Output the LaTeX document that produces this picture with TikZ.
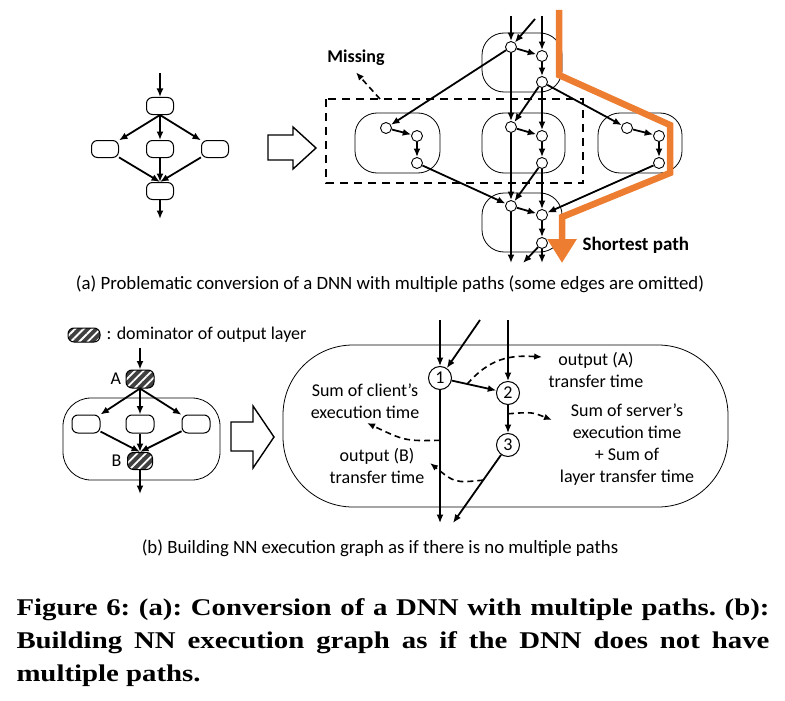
\documentclass[tikz,border=0pt]{standalone}
\usepackage{fontspec}
\setmainfont{Carlito}
\newfontfamily\figcapfont[FakeStretch=1.2]{Liberation Serif}
\usetikzlibrary{positioning, arrows.meta, patterns.meta, calc}
\definecolor{PathOrange}{RGB}{237,125,49}

\begin{document}
\begin{tikzpicture}[>=Latex, x=1pt, y=-1pt,
    layer/.style={draw, line width=1pt, rounded corners=6pt, minimum width=27pt, minimum height=17pt, inner sep=0pt},
    dom/.style={layer, minimum width=28pt, minimum height=18pt, preaction={fill=black!75}, pattern={Lines[angle=45, distance=6pt, line width=1.8pt]}, pattern color=white},
    vtx/.style={circle, draw, line width=0.9pt, fill=white, minimum size=11pt, inner sep=0pt},
    num/.style={circle, draw, line width=1pt, fill=white, minimum size=23pt, inner sep=0pt, font=\fontsize{18}{18}\selectfont},
    group/.style={draw, line width=0.8pt, rounded corners=22pt},
    edge/.style={-{Latex[length=8.5pt, width=7pt]}, line width=1.8pt},
    dashedge/.style={-{Latex[length=8pt, width=6.5pt]}, line width=1.6pt, dash pattern=on 6pt off 4pt},
    conv/.style={draw, line width=1.4pt, line join=miter},
    lbl/.style={font=\fontsize{18}{22}\selectfont, align=center},
    capt/.style={font=\fontsize{18.8}{22}\selectfont}]
  \useasboundingbox (0,0) rectangle (785,701);

  % (a) DNN with multiple paths
  \node[layer] (ta) at (160,106) {};
  \node[layer] (la) at (105,149) {};
  \node[layer] (ma) at (160,149) {};
  \node[layer] (ra) at (215,149) {};
  \node[layer] (ba) at (160,191) {};
  \coordinate (ina) at (160,73);
  \coordinate (outa) at (160,219);
  \draw[edge] (ina) -- (ta);
  \foreach \n in {la,ma,ra} {\draw[edge] (ta.south) -- (\n); \draw[edge] (\n) -- (ba.north);}
  \draw[edge] (ba) -- (outa);

  % conversion arrow
  \draw[conv] (268,135) -- (293,135) -- (293,127) -- (316,148) -- (293,169) -- (293,160) -- (268,160) -- cycle;

  % groups of the converted graph
  \draw[group] (355,113) rectangle (440,173);
  \draw[group] (482,33) rectangle (562,92);
  \draw[group] (482,113) rectangle (565,173);
  \draw[group] (482,193) rectangle (562,252);
  \draw[group] (598,113) rectangle (682,173);

  % vertices
  \node[vtx] (a1) at (511,47) {};
  \node[vtx] (a2) at (542,56) {};
  \node[vtx] (a3) at (542,82) {};
  \node[vtx] (b1) at (511,127) {};
  \node[vtx] (b2) at (542,136) {};
  \node[vtx] (b3) at (542,163) {};
  \node[vtx] (c1) at (511,206) {};
  \node[vtx] (c2) at (542,215) {};
  \node[vtx] (c3) at (542,243) {};
  \node[vtx] (e1) at (386,128) {};
  \node[vtx] (e2) at (417,136) {};
  \node[vtx] (e3) at (417,163) {};
  \node[vtx] (d1) at (627,128) {};
  \node[vtx] (d2) at (659,136) {};
  \node[vtx] (d3) at (659,163) {};
  \coordinate (in1) at (511,16);
  \coordinate (in2) at (542,16);
  \coordinate (in3) at (535,19);
  \coordinate (out1) at (511,263);
  \coordinate (out2) at (542,263);
  \coordinate (out3) at (523,263);

  % edges
  \draw[edge] (in1) -- (a1);
  \draw[edge] (in2) -- (a2);
  \draw[edge] (in3) -- (a1);
  \foreach \s/\t in {a1/a2, a2/a3, a1/b1, a3/b2, a3/b1, a1/e1, a3/d1,
                     e1/e2, e2/e3, e3/c1, b1/b2, b2/b3, b1/c1, b3/c2, b3/c1,
                     d1/d2, d2/d3, d3/c2, c1/c2, c2/c3, c1/out1, c3/out2, c3/out3}
    \draw[edge] (\s) -- (\t);

  % missing part
  \draw[line width=1.8pt, dash pattern=on 8pt off 6pt] (326,99) rectangle (583,183);
  \node[font=\bfseries\fontsize{18}{18}\selectfont] (miss) at (356,58) {Missing};
  \coordinate (missfrom) at (380,99);
  \draw[dashedge] (missfrom) -- ([yshift=-3pt]miss.south);

  % shortest path
  \coordinate (sp0) at (559,10);
  \draw[PathOrange, line width=6.5pt, line join=miter, -{Triangle[length=24pt, width=28pt]}]
    (sp0) -- (559,75) -- (670,125) -- (670,173) -- (562,217) -- (562,263);
  \node[font=\bfseries\fontsize{19}{19}\selectfont, anchor=west] (sp) at (579,245) {Shortest path};

  \node[capt] (capa) at (390,284) {(a) Problematic conversion of a DNN with multiple paths (some edges are omitted)};

  % (b) legend
  \node[dom, minimum width=32pt, minimum height=14pt] (legbox) at (84,335) {};
  \node[lbl, anchor=west] (legtxt) at (103,335) {: dominator of output layer};

  % (b) DNN with dominators
  \draw[group, rounded corners=28pt] (63,398) rectangle (220,480);
  \node[dom] (A) at (140,379) {};
  \node[lbl, left=1pt of A] (Alab) {A};
  \node[layer, minimum width=28pt, minimum height=18pt] (lb) at (86,424) {};
  \node[layer, minimum width=28pt, minimum height=18pt] (mb) at (140,424) {};
  \node[layer, minimum width=28pt, minimum height=18pt] (rb) at (196,424) {};
  \node[dom, minimum width=25pt, minimum height=17pt] (B) at (140,461) {};
  \node[lbl, left=2pt of B] (Blab) {B};
  \coordinate (inb) at (140,348);
  \coordinate (outb) at (140,494);
  \draw[edge] (inb) -- (A);
  \foreach \n in {lb,mb,rb} {\draw[edge] (A.south) -- (\n); \draw[edge] (\n) -- (B.north);}
  \draw[edge] (B) -- (outb);

  % conversion arrow
  \draw[conv] (231,422) -- (253,422) -- (253,406) -- (274,437) -- (253,468) -- (253,451) -- (231,451) -- cycle;

  % (b) execution graph
  \draw[group, rounded corners=70pt] (283,345) rectangle (728,507);
  \node[num] (n1) at (440,378) {1};
  \node[num] (n2) at (508,393) {2};
  \node[num] (n3) at (508,445) {3};
  \coordinate (ex1) at (440,320);
  \coordinate (ex2) at (480,320);
  \coordinate (ex3) at (508,320);
  \coordinate (ex4) at (440,523);
  \coordinate (ex5) at (453,523);
  \draw[edge, line width=1.5pt] (ex1) -- (n1);
  \draw[edge] (ex2) -- (n1);
  \draw[edge, line width=1.5pt] (ex3) -- (n2);
  \draw[edge] (n1) -- (n2);
  \draw[edge, line width=1.5pt] (n2) -- (n3);
  \draw[edge, line width=1.5pt] (n1) -- (ex4);
  \draw[edge] (n3) -- (ex5);

  % cost labels
  \node[lbl] (clienttxt) at (365,401) {Sum of client’s\\execution time};
  \node[lbl] (outBtxt) at (377,466) {output (B)\\transfer time};
  \node[lbl] (outAtxt) at (596,370) {output (A)\\transfer time};
  \node[lbl] (servertxt) at (627,445) {Sum of server’s\\execution time\\+ Sum of\\layer transfer time};
  \draw[dashedge] ($(n1)!0.4!(n2)$) .. controls (490,358) and (510,355) .. ([xshift=-3pt]outAtxt.west |- 0,357);
  \draw[dashedge] ($(n2)!0.4!(n3)$) .. controls (532,412) .. (552,420);
  \draw[dashedge] ($(n1)!0.43!(ex4)$) .. controls (405,441) .. (367,423);
  \draw[dashedge] ($(n3)!0.45!(ex5)$) .. controls (455,483) .. (430,463);

  \node[capt] (capb) at (380,548) {(b) Building NN execution graph as if there is no multiple paths};

  % figure caption
  \node[text width=753pt, align=justify, inner sep=0pt, font=\figcapfont\bfseries\frenchspacing\fontsize{24}{33}\selectfont] (figcap) at (393,643)
    {Figure 6: (a): Conversion of a DNN with multiple paths. (b):\linebreak Building NN execution graph as if the DNN does not have\linebreak multiple paths.};
\end{tikzpicture}
\end{document}
